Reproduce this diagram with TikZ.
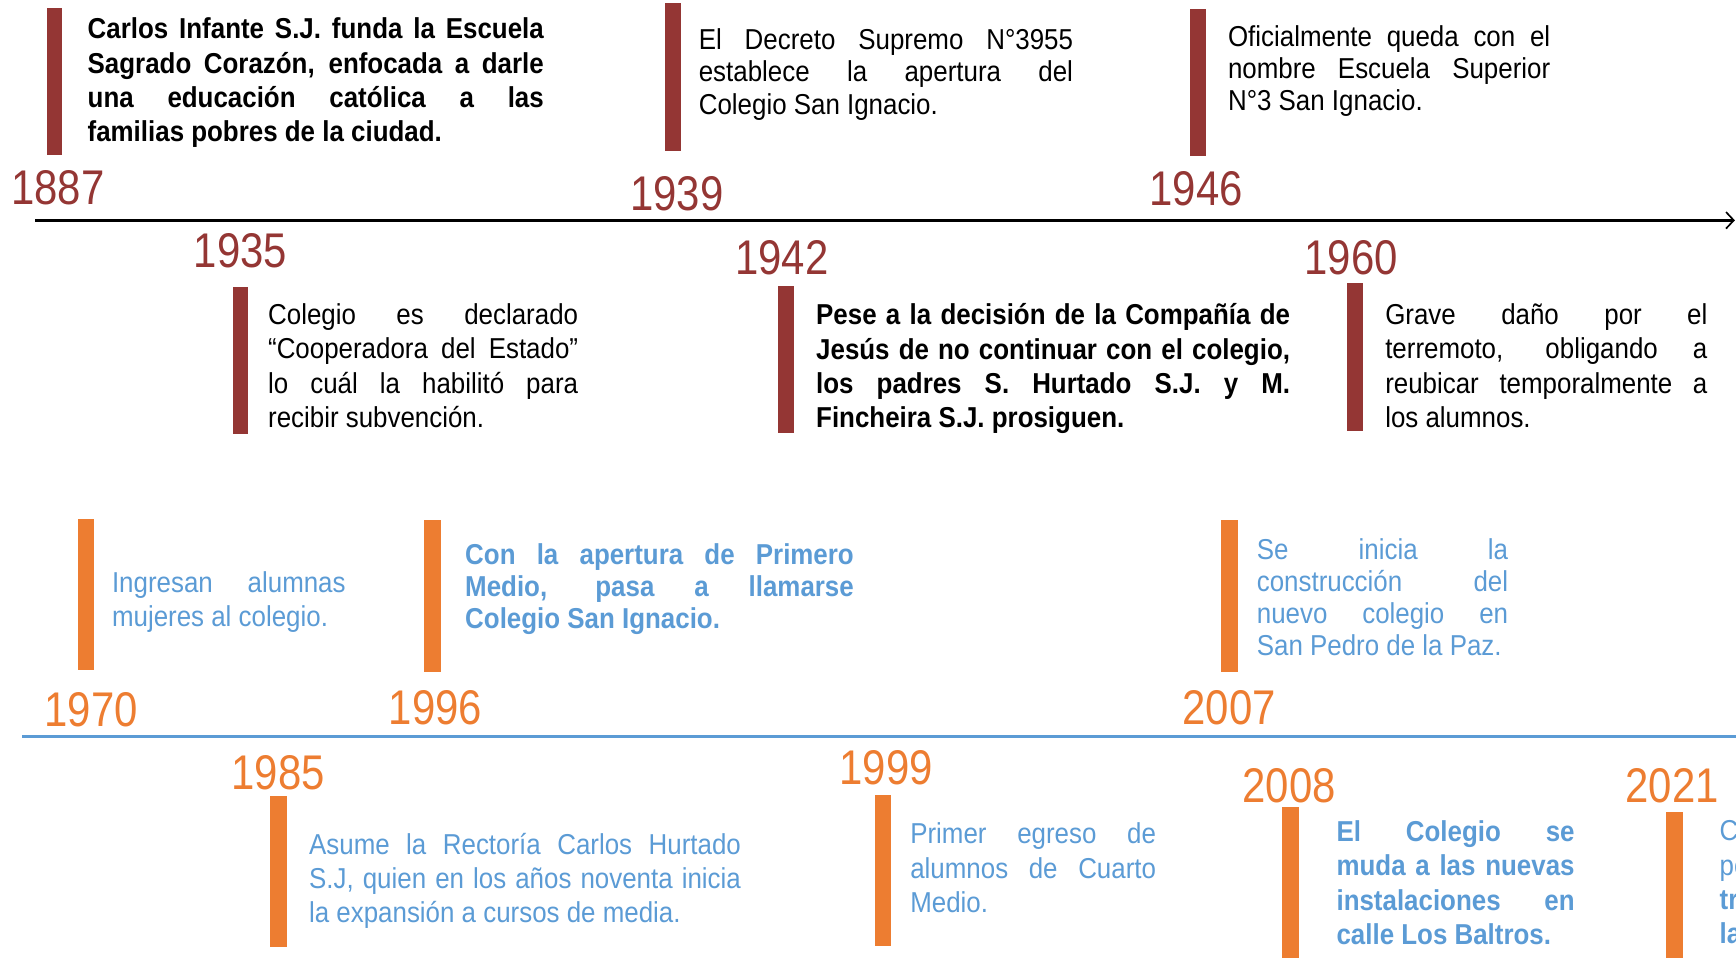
\documentclass[tikz,border=0pt]{standalone}
\usepackage{fontspec}
\setmainfont{Liberation Sans}[FakeStretch=0.9]
\newfontfamily\yearfont{Liberation Sans}[FakeStretch=0.86]
\usetikzlibrary{arrows.meta, positioning}
\definecolor{tlred}{HTML}{943634}
\definecolor{tlorange}{HTML}{ED7D31}
\definecolor{tlblue}{HTML}{5B9BD5}
\tikzset{
  yearlabel/.style={anchor=base west, inner sep=0pt, font=\yearfont\fontsize{44}{44}\selectfont},
  eventtext/.style={anchor=north west, inner sep=0pt, align=justify, font=\fontsize{26}{31}\selectfont},
  tightlines/.style={font=\fontsize{26}{29}\selectfont},
}
\begin{document}
\begin{tikzpicture}[x=1pt, y=-1pt]
\useasboundingbox (0,0) rectangle (1568,865);
\clip (0,0) rectangle (1568,865);
% the two time lines
\coordinate (axisL) at (32,199);
\coordinate (axisR) at (1567,199);
\draw[line width=2.5pt, -{Straight Barb[length=7pt, width=15pt, line width=1.5pt]}] (axisL) -- (axisR);
\coordinate (lineL) at (20,665);
\coordinate (lineR) at (1568,665);
\draw[tlblue, line width=3pt] (lineL) -- (lineR);
% bars
\foreach \x/\ya/\yb in {42/7/140, 601/3/136, 1075/8/141, 210/259/392, 703/258/391, 1217/256/389}
  \fill[tlred] (\x,\ya) rectangle ({\x+14},\yb);
\foreach \x/\ya/\yb in {70/469/605, 383/470/607, 1103/470/607, 244/719/855, 790/718/854, 1158/729/870, 1505/733/870}
  \fill[tlorange] (\x,\ya) rectangle ({\x+15},\yb);
% years
\foreach \yr/\x/\y in {1887/10/185, 1939/569/190, 1946/1038/186, 1935/175/242, 1942/664/248, 1960/1178/248}
  \node[yearlabel, text=tlred] (y\yr) at (\x,\y) {\yr};
\foreach \yr/\x/\y in {1970/40/656, 1996/351/654, 2007/1068/654, 1985/209/713, 1999/758/709, 2008/1122/725, 2021/1468/725}
  \node[yearlabel, text=tlorange] (y\yr) at (\x,\y) {\yr};
% texts, first period
\node[eventtext, text width=412] (t1887) at (79,16)
  {\bfseries Carlos Infante S.J. funda la Escuela\linebreak Sagrado Corazón, enfocada a darle\linebreak una educación católica a las\linebreak familias pobres de la ciudad.};
\node[eventtext, tightlines, text width=338] (t1939) at (631,26)
  {El Decreto Supremo N°3955\linebreak establece la apertura del\linebreak Colegio San Ignacio.};
\node[eventtext, tightlines, text width=291] (t1946) at (1109,23)
  {Oficialmente queda con el\linebreak nombre Escuela Superior\linebreak N°3 San Ignacio.};
\node[eventtext, text width=280] (t1935) at (242,274)
  {Colegio es declarado\linebreak “Cooperadora del Estado”\linebreak lo cuál la habilitó para\linebreak recibir subvención.};
\node[eventtext, text width=428] (t1942) at (737,274)
  {\bfseries Pese a la decisión de la Compañía de\linebreak Jesús de no continuar con el colegio,\linebreak los padres S. Hurtado S.J. y M.\linebreak Fincheira S.J. prosiguen.};
\node[eventtext, text width=291] (t1960) at (1251,274)
  {Grave daño por el\linebreak terremoto, obligando a\linebreak reubicar temporalmente a\linebreak los alumnos.};
% texts, second period
\node[eventtext, text=tlblue, text width=211] (t1970) at (101,516)
  {Ingresan alumnas\linebreak mujeres al colegio.};
\node[eventtext, tightlines, text=tlblue, text width=351] (t1996) at (420,491)
  {\bfseries Con la apertura de Primero\linebreak Medio, pasa a llamarse\linebreak Colegio San Ignacio.};
\node[eventtext, tightlines, text=tlblue, text width=227] (t2007) at (1135,486)
  {Se inicia la\linebreak construcción del\linebreak nuevo colegio en\linebreak San Pedro de la Paz.};
\node[eventtext, text=tlblue, text width=390] (t1985) at (279,752)
  {Asume la Rectoría Carlos Hurtado\linebreak S.J, quien en los años noventa inicia\linebreak la expansión a cursos de media.};
\node[eventtext, text=tlblue, text width=222] (t1999) at (822,743)
  {Primer egreso de\linebreak alumnos de Cuarto\linebreak Medio.};
\node[eventtext, text=tlblue, text width=215] (t2008) at (1207,741)
  {\bfseries El Colegio se\linebreak muda a las nuevas\linebreak instalaciones en\linebreak calle Los Baltros.};
\node[eventtext, text=tlblue, align=left] (t2021) at (1553,741)
  {C\\pe\\\textbf{tr}\\\textbf{la}};
\end{tikzpicture}
\end{document}
